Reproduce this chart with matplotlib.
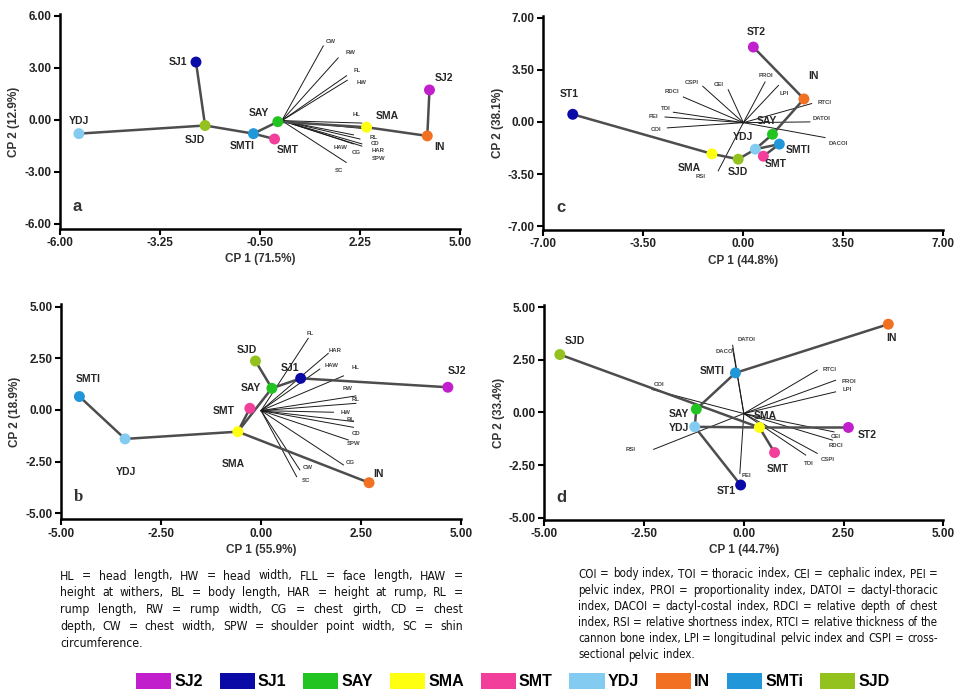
import matplotlib
matplotlib.use('Agg')
import matplotlib.pyplot as plt
from matplotlib.patches import Patch

# group colours, in legend order
groups = ['SJ2', 'SJ1', 'SAY', 'SMA', 'SMT', 'YDJ', 'IN', 'SMTi', 'SJD']
group_colors = ['#c21fcc', '#0a0aa6', '#22c422', '#ffff10', '#f23f9c',
                '#84cbf2', '#f27022', '#2196d8', '#93c21f']
COL = dict(zip(groups, group_colors))
COL['SMTI'] = COL['SMTi']
COL['ST1'] = COL['SJ1']
COL['ST2'] = COL['SJ2']

# ---- panel a : body measurements, CP1 x CP2 ----
a_names = ['YDJ', 'SJ1', 'SJD', 'SMTI', 'SMT', 'SAY', 'SMA', 'IN', 'SJ2']
a_x = [-5.48, -2.26, -2.01, -0.68, -0.10, -0.01, 2.43, 4.10, 4.16]
a_y = [-0.80, 3.33, -0.33, -0.80, -1.11, -0.11, -0.43, -0.93, 1.72]
a_edges = [('YDJ', 'SJD'), ('SJ1', 'SJD'), ('SJD', 'SMTI'), ('SMTI', 'SAY'),
           ('SMTI', 'SMT'), ('SAY', 'SMA'), ('SMA', 'IN'), ('IN', 'SJ2')]
a_vars = ['CW', 'RW', 'FL', 'HW', 'HL', 'RL', 'CD', 'HAR', 'SPW', 'CG', 'HAW', 'SC']
a_vx = [1.24, 1.65, 1.88, 1.90, 2.30, 2.30, 2.25, 2.30, 2.30, 2.07, 2.07, 1.87]
a_vy = [4.26, 3.57, 2.54, 2.28, -0.19, -0.50, -1.11, -1.39, -1.52, -0.87, -1.39, -2.46]

# ---- panel b ----
b_names = ['SMTI', 'YDJ', 'SMA', 'SMT', 'SJD', 'SAY', 'SJ1', 'SJ2', 'IN']
b_x = [-4.54, -3.40, -0.58, -0.28, -0.14, 0.27, 0.99, 4.67, 2.70]
b_y = [0.65, -1.40, -1.05, 0.08, 2.37, 1.05, 1.53, 1.10, -3.52]
b_edges = [('SMTI', 'YDJ'), ('YDJ', 'SMA'), ('SMA', 'IN'), ('SMA', 'SAY'),
           ('SMA', 'SMT'), ('SAY', 'SJD'), ('SAY', 'SJ1'), ('SJ1', 'SJ2')]
b_vars = ['FL', 'HAR', 'HAW', 'HL', 'RW', 'RL', 'HW', 'BL', 'CD', 'SPW', 'CG', 'CW', 'SC']
b_vx = [1.18, 1.68, 1.47, 2.06, 2.37, 2.37, 1.81, 2.31, 2.31, 2.18, 2.06, 0.97, 0.89]
b_vy = [3.47, 2.74, 1.98, 1.65, 0.68, 0.32, -0.11, -0.56, -0.84, -1.45, -2.66, -2.90, -3.23]

# ---- panel c : indices ----
c_names = ['ST2', 'IN', 'ST1', 'SAY', 'SMTI', 'YDJ', 'SMT', 'SJD', 'SMA']
c_x = [0.35, 2.12, -5.97, 1.02, 1.26, 0.42, 0.70, -0.18, -1.10]
c_y = [5.02, 1.54, 0.51, -0.83, -1.49, -1.83, -2.30, -2.50, -2.14]
c_edges = [('ST2', 'IN'), ('IN', 'SAY'), ('SAY', 'YDJ'), ('YDJ', 'SMTI'),
           ('SMTI', 'SMT'), ('YDJ', 'SJD'), ('SJD', 'SMA'), ('SMA', 'ST1')]
c_vars = ['CSPI', 'CEI', 'RDCI', 'TOI', 'PEI', 'COI', 'PROI', 'LPI',
          'RTCI', 'DATOI', 'DACOI', 'RSI']
c_vx = [-1.42, -0.53, -2.10, -2.45, -2.74, -2.66, 0.76, 1.23, 2.39, 2.33, 2.86, -0.88]
c_vy = [2.39, 2.16, 1.67, 0.65, 0.33, -0.40, 2.68, 2.45, 1.23, 0.00, -1.05, -3.28]

# ---- panel d ----
d_names = ['SJD', 'IN', 'SMTI', 'SAY', 'YDJ', 'SMA', 'ST2', 'SMT', 'ST1']
d_x = [-4.61, 3.62, -0.21, -1.19, -1.23, 0.39, 2.62, 0.77, -0.08]
d_y = [2.75, 4.19, 1.88, 0.16, -0.68, -0.71, -0.71, -1.90, -3.44]
d_edges = [('SJD', 'SMA'), ('YDJ', 'SMA'), ('SMA', 'ST2'), ('SMA', 'SMT'),
           ('YDJ', 'ST1'), ('YDJ', 'SAY'), ('SAY', 'SMTI'), ('SMTI', 'IN')]
d_vars = ['DATOI', 'DACOI', 'COI', 'RSI', 'RTCI', 'PROI', 'LPI', 'CEI',
          'RDCI', 'CSPI', 'TOI', 'PEI']
d_vx = [-0.28, -0.28, -2.30, -2.26, 1.84, 2.30, 2.30, 2.26, 2.22, 1.84, 1.55, -0.10]
d_vy = [3.19, 3.03, 1.09, -1.75, 2.01, 1.53, 0.98, -0.92, -1.31, -1.94, -2.02, -2.89]

# label placement (pixel offsets)
a_lab = {'YDJ': (0, 13), 'SJ1': (-18, 0), 'SJD': (-10, -15), 'SMTI': (-11, -12),
         'SMT': (13, -11), 'SAY': (-19, 9), 'SMA': (21, 11), 'IN': (12, -11), 'SJ2': (14, 12)}
a_vlab = {'CW': (7, 4), 'RW': (12, 5), 'FL': (11, 5), 'HW': (14, -2), 'HL': (-5, 9),
          'RL': (12, -9), 'CD': (15, -4), 'HAR': (16, -7), 'SPW': (17, -12),
          'CG': (3, -18), 'HAW': (-13, -4), 'SC': (-7, -8)}
b_lab = {'SMTI': (9, 18), 'YDJ': (1, -33), 'SMA': (-5, -32), 'SMT': (-26, -3), 'SJD': (-9, 11),
         'SAY': (-21, 0), 'SJ1': (-11, 10), 'SJ2': (9, 16), 'IN': (9, 9)}
b_vlab = {'FL': (2, 5), 'HAR': (7, 3), 'HAW': (12, 4), 'HL': (12, 8), 'RW': (-8, 7),
          'RL': (0, 4), 'HW': (12, 0), 'BL': (-3, 2), 'CD': (3, -6), 'SPW': (5, -4),
          'CG': (7, 2), 'CW': (8, 2), 'SC': (9, -4)}
c_lab = {'ST2': (3, 15), 'IN': (10, 23), 'ST1': (-4, 20), 'SAY': (-6, 13), 'YDJ': (-12, 12),
         'SMTI': (19, -6), 'SMT': (12, -8), 'SJD': (0, -13), 'SMA': (-23, -14)}
c_vlab = {'CSPI': (-11, 4), 'CEI': (-9, 5), 'RDCI': (-11, 6), 'TOI': (-8, 4), 'PEI': (-12, 0),
          'COI': (-11, -2), 'PROI': (1, 6), 'LPI': (6, -8), 'RTCI': (13, 1), 'DATOI': (12, 3),
          'DACOI': (13, -6), 'RSI': (-18, -6)}
d_lab = {'SJD': (15, 14), 'IN': (3, -14), 'SMTI': (-23, 2), 'SAY': (-17, -5), 'YDJ': (-16, -1),
         'SMA': (6, 11), 'ST2': (19, -8), 'SMT': (3, -16), 'ST1': (-14, -6)}
d_vlab = {'DATOI': (14, 6), 'DACOI': (-7, -3), 'COI': (7, 5), 'RSI': (-23, 0), 'RTCI': (12, 1),
          'PROI': (13, -1), 'LPI': (12, 2), 'CEI': (2, -5), 'RDCI': (4, -5), 'CSPI': (10, -6),
          'TOI': (3, -8), 'PEI': (7, -2)}

left_caption = [
    "HL = head length, HW = head width, FLL = face length, HAW =",
    "height at withers, BL = body length, HAR = height at rump, RL =",
    "rump length, RW = rump width, CG = chest girth, CD = chest",
    "depth, CW = chest width, SPW = shoulder point width, SC = shin",
    "circumference.",
]
right_caption = [
    "COI = body index, TOI = thoracic index, CEI = cephalic index, PEI =",
    "pelvic index, PROI = proportionality index, DATOI = dactyl-thoracic",
    "index, DACOI = dactyl-costal index, RDCI = relative depth of chest",
    "index, RSI = relative shortness index, RTCI = relative thickness of the",
    "cannon bone index, LPI = longitudinal pelvic index and CSPI = cross-",
    "sectional pelvic index.",
]

SANS = ['Liberation Sans', 'DejaVu Sans']
W, H = 964, 691


def draw_panel(rect, names, xs, ys, edges, vnames, vxs, vys, lab, vlab,
               xlim, ylim, ticks_x, ticks_y, xlabel, ylabel, letter, origin=(0, 0),
               letter_family=SANS):
    ax = fig.add_axes(rect)
    pos = dict(zip(names, zip(xs, ys)))
    # loading vectors
    for v, vx, vy in zip(vnames, vxs, vys):
        ax.plot([origin[0], vx], [origin[1], vy], color='#1a1a1a', lw=0.7, zorder=1)
        dx, dy = vlab[v]
        ax.annotate(v, (vx, vy), xytext=(dx, dy), textcoords='offset pixels',
                    ha='center', va='center', fontsize=4.3, fontweight='bold',
                    color='#444444', family=SANS)
    # minimum spanning tree
    for p, q in edges:
        ax.plot([pos[p][0], pos[q][0]], [pos[p][1], pos[q][1]],
                color='#4d4d4d', lw=1.8, zorder=2, solid_capstyle='round')
    ax.scatter(xs, ys, s=62, c=[COL[n] for n in names], zorder=3, linewidths=0)
    for n, x, y in zip(names, xs, ys):
        dx, dy = lab[n]
        ax.annotate(n, (x, y), xytext=(dx, dy), textcoords='offset pixels',
                    ha='center', va='center', fontsize=7.5, fontweight='bold',
                    color='#262626', family=SANS)
    ax.set_xlim(xlim)
    ax.set_ylim(ylim)
    ax.set_xticks(ticks_x)
    ax.set_yticks(ticks_y)
    ax.set_xticklabels(['%.2f' % t for t in ticks_x])
    ax.set_yticklabels(['%.2f' % t for t in ticks_y])
    for side in ('top', 'right'):
        ax.spines[side].set_visible(False)
    for side in ('left', 'bottom'):
        ax.spines[side].set_linewidth(1.8)
    ax.tick_params(direction='out', length=4, width=1.5, pad=2,
                   labelsize=8.5, labelcolor='#222222')
    for t in ax.get_xticklabels() + ax.get_yticklabels():
        t.set_fontweight('bold')
        t.set_family(SANS)
    ax.set_xlabel(xlabel, fontsize=8.5, fontweight='bold', color='#333333',
                  family=SANS, labelpad=3)
    ax.set_ylabel(ylabel, fontsize=8.5, fontweight='bold', color='#333333',
                  family=SANS, labelpad=3)
    ax.text(0.043, 0.105, letter, transform=ax.transAxes, fontsize=12,
            fontweight='bold', color='#333333', family=letter_family,
            ha='center', va='center')
    return ax


def justified(lines, x0, x1, y0, dy, size=8.3):
    # place word by word so every line but the last fills x0..x1 (pixels)
    r = fig.canvas.get_renderer()
    kw = dict(fontsize=size, family=['DejaVu Sans'], fontstretch='condensed',
              color='#111111', va='center')

    def width(s):
        t = fig.text(0, 0, s, **kw)
        w = t.get_window_extent(r).width
        t.remove()
        return w
    space = 0.3 * size * 100 / 72
    for i, line in enumerate(lines):
        words = line.split(' ')
        ws = [width(s) for s in words]
        gap = space
        if i < len(lines) - 1 and len(words) > 1:
            gap = max((x1 - x0 - sum(ws)) / (len(words) - 1), 0.6 * space)
        x = x0
        for word, wd in zip(words, ws):
            fig.text(x / W, 1 - (y0 + dy * i) / H, word, **kw)
            x += wd + gap


fig = plt.figure(figsize=(9.64, 6.91), dpi=100)

draw_panel([0.0622, 0.6686, 0.415, 0.3111], a_names, a_x, a_y, a_edges,
           a_vars, a_vx, a_vy, a_lab, a_vlab, (-6, 5), (-6.3, 6.1),
           [-6, -3.25, -0.5, 2.25, 5], [-6, -3, 0, 3, 6],
           'CP 1 (71.5%)', 'CP 2 (12.9%)', 'a', origin=(0.1, -0.05))
draw_panel([0.5636, 0.6671, 0.415, 0.3097], c_names, c_x, c_y, c_edges,
           c_vars, c_vx, c_vy, c_lab, c_vlab, (-7, 7), (-7.25, 7.1),
           [-7, -3.5, 0, 3.5, 7], [-7, -3.5, 0, 3.5, 7],
           'CP 1 (44.8%)', 'CP 2 (38.1%)', 'c', origin=(0, -0.05))
draw_panel([0.0633, 0.2485, 0.415, 0.3116], b_names, b_x, b_y, b_edges,
           b_vars, b_vx, b_vy, b_lab, b_vlab, (-5, 5), (-5.29, 5.13),
           [-5, -2.5, 0, 2.5, 5], [-5, -2.5, 0, 2.5, 5],
           'CP 1 (55.9%)', 'CP 2 (18.9%)', 'b', origin=(0, -0.03),
           letter_family=['Liberation Serif', 'DejaVu Serif'])
draw_panel([0.5646, 0.2475, 0.414, 0.3111], d_names, d_x, d_y, d_edges,
           d_vars, d_vx, d_vy, d_lab, d_vlab, (-5, 5), (-5.1, 5.1),
           [-5, -2.5, 0, 2.5, 5], [-5, -2.5, 0, 2.5, 5],
           'CP 1 (44.7%)', 'CP 2 (33.4%)', 'd', origin=(0, -0.05))

# captions
justified(left_caption, 60, 463, 576, 16.8, size=8.8)
justified(right_caption, 578, 938, 574, 16.2, size=8.3)

# legend
handles = [Patch(facecolor=c, edgecolor='none') for c in group_colors]
fig.legend(handles, groups, loc='center', bbox_to_anchor=(0.532, 1 - 681 / 691),
           ncol=9, frameon=False, handlelength=2.2, handleheight=1.2,
           handletextpad=0.2, columnspacing=1.05,
           prop={'family': SANS, 'weight': 'bold', 'size': 11.5})

fig.savefig('out.png', dpi=100)
